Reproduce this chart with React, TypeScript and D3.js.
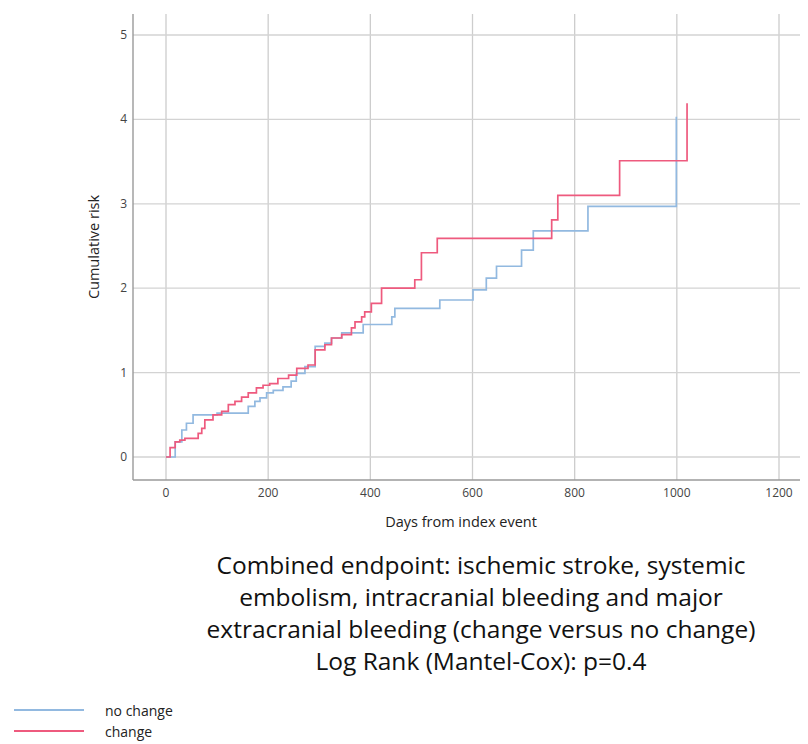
import React from "react";
import * as d3 from "d3";

// Step events: day of event and cumulative risk after it
const changeDays = [0, 8, 18, 27, 37, 63, 70, 76, 92, 109, 122, 135, 148, 161, 177, 190, 203, 219, 240, 256, 278, 292, 311, 324, 344, 363, 370, 383, 389, 402, 422, 487, 500, 531, 755, 767, 888, 1020];
const changeRisk = [0, 0.11, 0.18, 0.2, 0.22, 0.28, 0.34, 0.44, 0.5, 0.54, 0.62, 0.66, 0.71, 0.76, 0.82, 0.85, 0.87, 0.93, 0.97, 1.05, 1.09, 1.27, 1.33, 1.41, 1.45, 1.53, 1.6, 1.66, 1.72, 1.82, 2.0, 2.1, 2.42, 2.59, 2.81, 3.1, 3.51, 4.19];

const noChangeDays = [0, 18, 31, 40, 53, 100, 161, 174, 184, 197, 210, 229, 245, 255, 272, 292, 311, 324, 344, 386, 442, 448, 536, 601, 627, 647, 696, 719, 826, 999];
const noChangeRisk = [0, 0.18, 0.32, 0.4, 0.5, 0.52, 0.6, 0.66, 0.7, 0.76, 0.79, 0.83, 0.9, 0.99, 1.07, 1.31, 1.35, 1.41, 1.47, 1.57, 1.66, 1.76, 1.86, 1.98, 2.12, 2.26, 2.45, 2.68, 2.97, 4.03];

const xTicks = [0, 200, 400, 600, 800, 1000, 1200];
const yTicks = [0, 1, 2, 3, 4, 5];

const seriesNames = ["no change", "change"];
const seriesColors = ["#92b9e0", "#ee5a7e"];

const titleLines = [
  "Combined endpoint: ischemic stroke, systemic",
  "embolism, intracranial bleeding and major",
  "extracranial bleeding (change versus no change)",
  "Log Rank (Mantel-Cox): p=0.4",
];

export default function App() {
  const W = 808, H = 744;
  const left = 133, right = 800, top = 14, bottom = 480;
  const x = d3.scaleLinear().domain([0, 1200]).range([166, 779]);
  const y = d3.scaleLinear().domain([0, 5]).range([457, 35]);
  const font = "'Open Sans', sans-serif";

  const mk = (days: number[], risk: number[]) => {
    const pts: [number, number][] = days.map((d, i) => [d, risk[i]]);
    return d3.line<[number, number]>().x(p => x(p[0])).y(p => y(p[1])).curve(d3.curveStepAfter)(pts) || "";
  };
  const paths = [mk(noChangeDays, noChangeRisk), mk(changeDays, changeRisk)];

  return (
    <svg width={W} height={H} style={{ position: "absolute", left: 0, top: 0, background: "#fff" }}>
      <rect x={0} y={0} width={W} height={H} fill="#fff" />
      {xTicks.map(t => (
        <line key={"gx" + t} x1={x(t)} x2={x(t)} y1={top} y2={bottom} stroke="#cdcdcd" strokeWidth={1.3} />
      ))}
      {yTicks.map(t => (
        <line key={"gy" + t} x1={left} x2={right} y1={y(t)} y2={y(t)} stroke="#d3d3d3" strokeWidth={1.3} />
      ))}
      <line x1={left} x2={left} y1={top} y2={bottom} stroke="#9a9a9a" strokeWidth={1.4} />
      <line x1={left} x2={right} y1={bottom} y2={bottom} stroke="#9a9a9a" strokeWidth={1.4} />
      {xTicks.map(t => (
        <text key={"tx" + t} x={x(t)} y={497} textAnchor="middle" fontFamily={font} fontSize={12} fill="#444">{t}</text>
      ))}
      {yTicks.map(t => (
        <text key={"ty" + t} x={127} y={y(t) + 4} textAnchor="end" fontFamily={font} fontSize={12} fill="#444">{t}</text>
      ))}
      <text x={461} y={527} textAnchor="middle" fontFamily={font} fontSize={14.5} fill="#222">Days from index event</text>
      <text transform={`translate(99,247) rotate(-90)`} textAnchor="middle" fontFamily={font} fontSize={14.5} fill="#222">Cumulative risk</text>
      {paths.map((p, i) => (
        <path key={"s" + i} d={p} fill="none" stroke={seriesColors[i]} strokeWidth={1.7} />
      ))}
      {titleLines.map((l, i) => (
        <text key={"t" + i} x={481} y={574 + i * 32} textAnchor="middle" fontFamily={font} fontSize={24.5} fill="#111">{l}</text>
      ))}
      {seriesNames.map((n, i) => (
        <g key={"lg" + i}>
          <line x1={14} x2={84} y1={710 + i * 21} y2={710 + i * 21} stroke={seriesColors[i]} strokeWidth={2} />
          <text x={105} y={716 + i * 21} fontFamily={font} fontSize={14} fill="#222">{n}</text>
        </g>
      ))}
    </svg>
  );
}
